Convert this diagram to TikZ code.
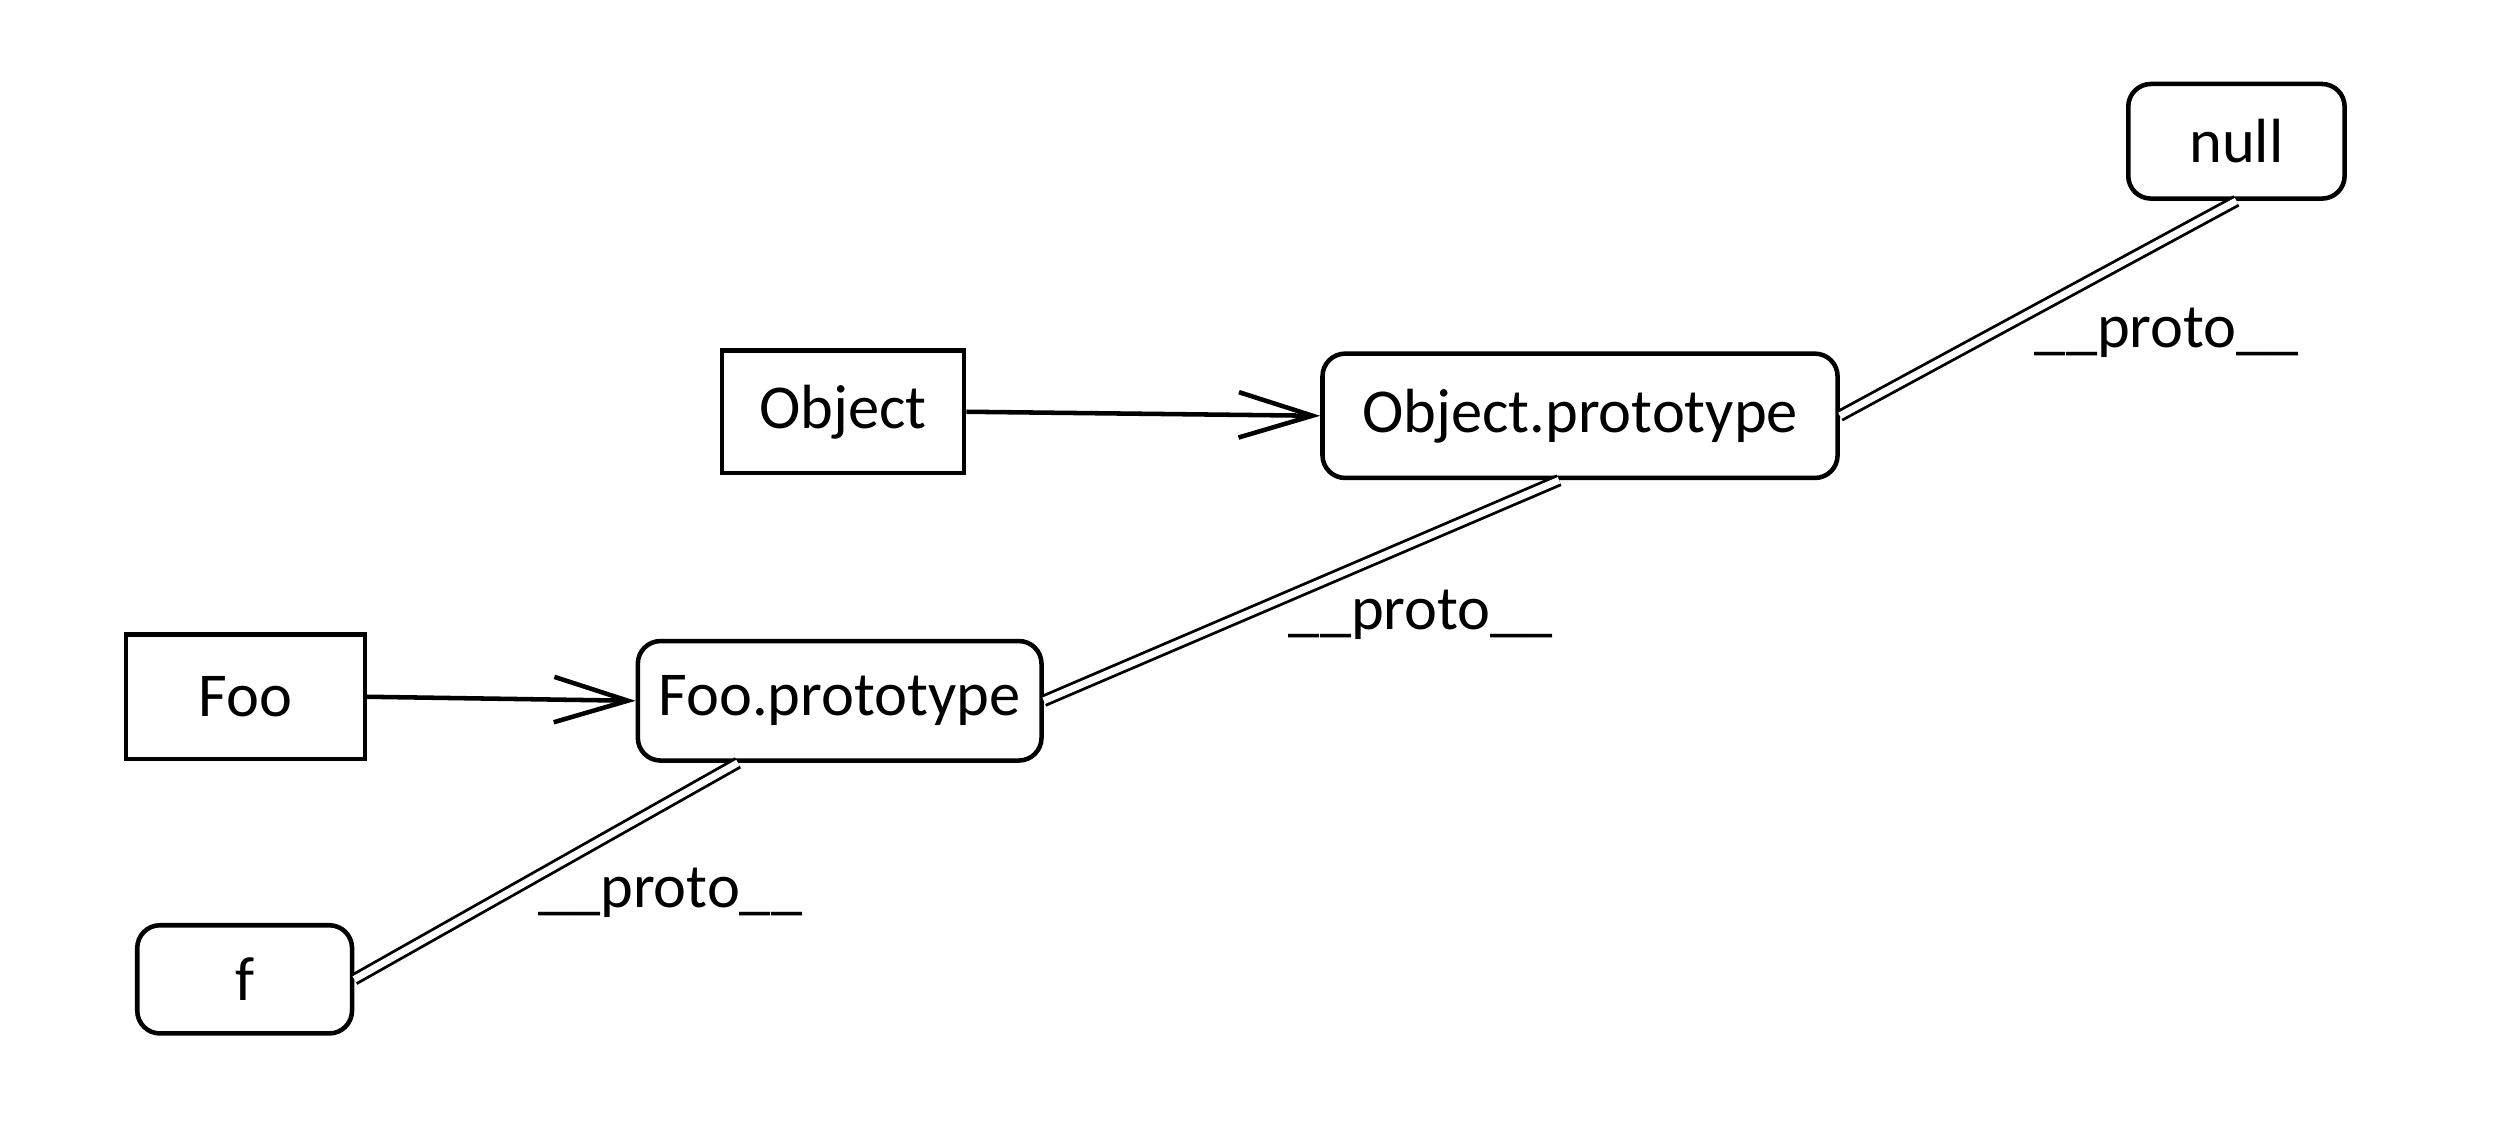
\documentclass[tikz,border=0pt]{standalone}
\usepackage{fontspec}
\setmainfont{Carlito}
\usepackage{tikz}
\usetikzlibrary{arrows.meta,positioning,calc}

\tikzset{
  obj/.style={draw, line width=0.8pt, inner sep=2pt, font=\fontsize{11}{13}\selectfont},
  protobox/.style={obj, rounded corners=4pt},
  link/.style={draw, line width=0.5pt, double, double distance=1.2pt},
  ptr/.style={draw, line width=0.8pt, -{Straight Barb[length=13pt,width=8pt,line width=0.8pt]}},
  lbl/.style={font=\fontsize{11}{13}\selectfont}
}

\begin{document}
\begin{tikzpicture}[x=1mm,y=-1mm]
    \useasboundingbox (0,0) rectangle (156,69.9);
    \node[protobox, minimum width=13.4mm, minimum height=7.1mm] (nullobj) at (138.5,8.75) {null};
    \node[obj, minimum width=15mm, minimum height=7.6mm] (objfn) at (52.2,25.5) {Object};
    \node[protobox, minimum width=31.9mm, minimum height=7.7mm] (objproto) at (97.85,25.75) {Object.prototype};
    \node[obj, minimum width=14.8mm, minimum height=7.7mm] (foofn) at (15.2,43.15) {Foo};
    \node[protobox, minimum width=25mm, minimum height=7.4mm] (fooproto) at (52,43.4) {Foo.prototype};
    \node[protobox, minimum width=13.3mm, minimum height=6.7mm] (fobj) at (15.15,60.65) {f};
    % constructors point to their prototype
    \draw[ptr] (objfn.east) -- (objproto.west);
    \draw[ptr] (foofn.east) -- (fooproto.west);
    % prototype chain
    \draw[link] (fobj.east) -- ([xshift=-6.3mm]fooproto.south);
    \draw[link] (fooproto.east) -- ([xshift=-1.3mm]objproto.south);
    \draw[link] (objproto.east) -- (nullobj.south);
    \node[lbl] (lblf) at (41.5,55.3) {\_\_proto\_\_};
    \node[lbl] (lblfoo) at (88,38.1) {\_\_proto\_\_};
    \node[lbl] (lblobj) at (134.2,20.6) {\_\_proto\_\_};
\end{tikzpicture}
\end{document}
